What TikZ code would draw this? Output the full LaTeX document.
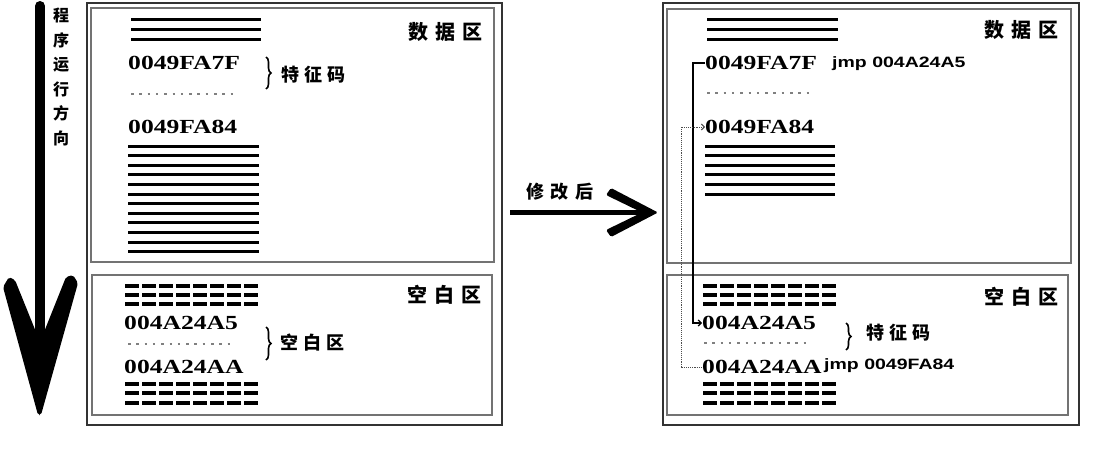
\documentclass[tikz,border=0pt]{standalone}
\usepackage{fontspec}
\usepackage{graphicx}
\setmainfont{Liberation Serif}
\newfontfamily\cjk{Noto Sans CJK SC}
\newfontfamily\jfont{Liberation Sans}
\usetikzlibrary{arrows.meta,decorations.pathreplacing}
\newcommand{\hexs}[1]{\scalebox{1.28}[1]{#1}}
\newcommand{\jmps}[1]{\scalebox{1.3}[1]{#1}}
\newcommand{\zg}[1]{\hspace{#1}}
\begin{document}
\begin{tikzpicture}[x=1pt,y=-1pt,
  hex/.style={anchor=west,inner sep=0pt,font=\bfseries\fontsize{20}{20}\selectfont},
  jmpt/.style={anchor=base west,inner sep=0pt,font=\jfont\bfseries\fontsize{15}{15}\selectfont},
  zhbig/.style={inner sep=0pt,font=\cjk\bfseries\fontsize{20}{20}\selectfont},
  zhsmall/.style={inner sep=0pt,anchor=west,font=\cjk\bfseries\fontsize{18}{18}\selectfont},
  outerbox/.style={draw=black!80,line width=2pt},
  innerbox/.style={draw=black!55,line width=1.5pt},
  bar/.style={line width=3pt},
  dotrow/.style={draw=black!50,line width=2pt,dash pattern=on 2.5pt off 5.8pt},
  dblock/.style={line width=3.5pt,dash pattern=on 14pt off 3pt},
  brc/.style={decorate,decoration={brace,amplitude=5pt},line width=1.6pt},
  link/.style={line width=1.2pt,-{Straight Barb[length=3pt,width=6pt]}},
  dlink/.style={line width=0.9pt,densely dotted,-{Straight Barb[length=3pt,width=6pt]}}
]
\useasboundingbox (0,0) rectangle (1100,458);
\fill[white] (0,0) rectangle (1100,458);

% ---------- left program-direction arrow ----------
\draw[line width=10pt,line cap=round] (40,6) -- (40,345);
\fill[rounded corners=2pt] (3,287) -- (9,277) -- (15,280) -- (36,332) -- (44,332)
  -- (66,277) -- (73,275) -- (78,283) -- (41,415) -- (38,415) -- cycle;
\node[inner sep=0pt,align=center,font=\cjk\bfseries\fontsize{16}{24.5}\selectfont] (dir) at (61,77)
  {程\\序\\运\\行\\方\\向};

% ---------- left panel ----------
\draw[outerbox] (87,3) rectangle (502,425);
\draw[innerbox] (91,8) rectangle (494,262);
\draw[innerbox] (92,275) rectangle (492,415);

\foreach \y in {19,29,39} \draw[bar] (131,\y) -- (261,\y);
\node[hex] (l7f) at (128,63) {\hexs{0049FA7F}};
\draw[dotrow] (131,94) -- (234,94);
\node[hex] (l84) at (128,127) {\hexs{0049FA84}};
\foreach \i in {0,...,11} \draw[bar] (128,146+\i*9.6) -- (259,146+\i*9.6);
\draw[brc] (266,57) -- (266,89);
\node[zhsmall] (ltz) at (281,75) {特\zg{5pt}征\zg{5pt}码};
\node[zhbig] (ldata) at (445,32) {数\zg{7pt}据\zg{7pt}区};

\foreach \y in {286,295,304} \draw[dblock] (125,\y) -- (258,\y);
\node[hex] (l5) at (124,323) {\hexs{004A24A5}};
\draw[dotrow] (128,344) -- (230,344);
\node[hex] (laa) at (124,367) {\hexs{004A24AA}};
\foreach \y in {384,393,403} \draw[dblock] (125,\y) -- (258,\y);
\draw[brc] (266,327) -- (266,360);
\node[zhsmall] (lkb) at (280,343) {空\zg{5pt}白\zg{5pt}区};
\node[zhbig] (lblank) at (444,295) {空\zg{7pt}白\zg{7pt}区};

% ---------- middle arrow ----------
\node[inner sep=0pt,font=\cjk\bfseries\fontsize{18}{18}\selectfont] (after) at (560,192) {修\zg{7pt}改\zg{7pt}后};
\draw[line width=5pt] (510,212.5) -- (645,212.5);
\fill[rounded corners=1.5pt] (611,188) -- (658,212.5) -- (611,237) -- (606,230) -- (642,212.5) -- (606,195) -- cycle;

% ---------- right panel ----------
\draw[outerbox] (663,3) rectangle (1079,425);
\draw[innerbox] (667,9) rectangle (1071,263);
\draw[innerbox] (667,275) rectangle (1068,415);

\foreach \y in {19,29,39} \draw[bar] (707,\y) -- (838,\y);
\node[hex] (r7f) at (705,63) {\hexs{0049FA7F}};
\node[jmpt] (j1) at (832,67) {\jmps{jmp 004A24A5}};
\draw[dotrow] (707,93) -- (809,93);
\node[hex] (r84) at (705,127) {\hexs{0049FA84}};
\foreach \i in {0,...,5} \draw[bar] (705,146+\i*9.6) -- (835,146+\i*9.6);
\node[zhbig] (rdata) at (1021,30) {数\zg{7pt}据\zg{7pt}区};

\foreach \y in {286,295,304} \draw[dblock] (703,\y) -- (836,\y);
\node[hex] (r5) at (702,323) {\hexs{004A24A5}};
\draw[dotrow] (704,343) -- (806,343);
\node[hex] (raa) at (702,367) {\hexs{004A24AA}};
\node[jmpt] (j2) at (824,369) {\jmps{jmp 0049FA84}};
\foreach \y in {384,393,403} \draw[dblock] (703,\y) -- (836,\y);
\draw[brc] (846,323) -- (846,350);
\node[zhsmall] (rtz) at (866,333) {特\zg{5pt}征\zg{5pt}码};
\node[zhbig] (rblank) at (1021,297) {空\zg{7pt}白\zg{7pt}区};

% connectors
\draw[link] (r7f.west) -- ++(-12,0) |- (r5.west);
\draw[dlink,draw=black!70] (raa.west) -- ++(-21,0) |- (r84.west);
\end{tikzpicture}
\end{document}
